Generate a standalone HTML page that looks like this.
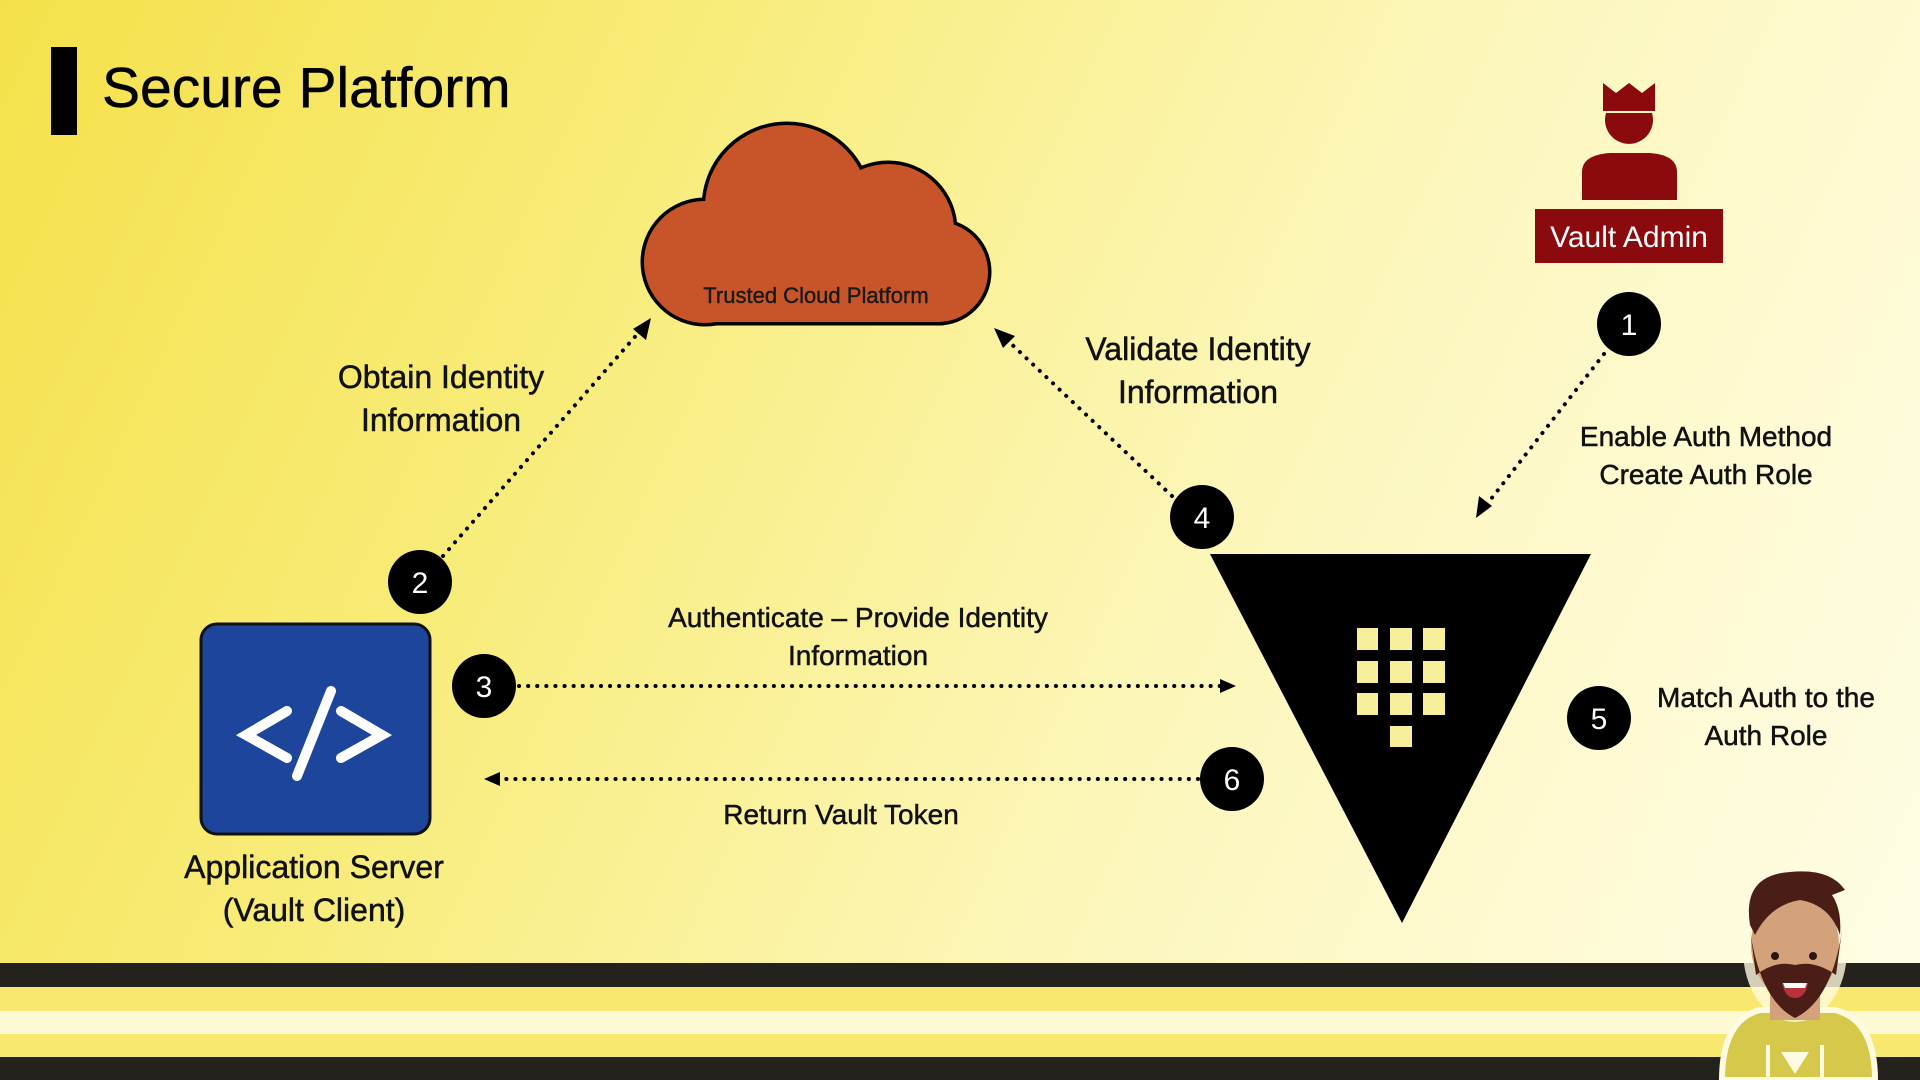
<!DOCTYPE html>
<html><head><meta charset="utf-8"><style>
html,body{margin:0;padding:0;width:1920px;height:1080px;overflow:hidden}
body{background:linear-gradient(115deg,#f4e14a 0%,#f8ec7a 30%,#fcf6b8 60%,#fefbd8 85%,#fefce6 100%);font-family:"Liberation Sans",sans-serif;position:relative}
.t{position:absolute;color:#111;text-align:center;white-space:nowrap;transform:translateX(-50%);-webkit-text-stroke:0.5px #111}
</style></head><body>
<div style="position:absolute;left:51px;top:47px;width:26px;height:88px;background:#000"></div>
<div style="position:absolute;left:102px;top:55px;font-size:57px;color:#000;line-height:66px;-webkit-text-stroke:0.5px #000">Secure Platform</div>

<div style="position:absolute;left:0;top:963px;width:1920px;height:24px;background:#24221c"></div>
<div style="position:absolute;left:0;top:987px;width:1920px;height:24px;background:#f8e870"></div>
<div style="position:absolute;left:0;top:1011px;width:1920px;height:23px;background:#fdf9d2"></div>
<div style="position:absolute;left:0;top:1034px;width:1920px;height:23px;background:#f8e870"></div>
<div style="position:absolute;left:0;top:1057px;width:1920px;height:23px;background:#24221c"></div>

<svg width="1920" height="1080" style="position:absolute;left:0;top:0">
<g stroke="#000" stroke-width="7" fill="#c8552a">
<circle cx="787" cy="207" r="82"/><circle cx="888" cy="230" r="66"/><circle cx="938" cy="272" r="50"/><circle cx="705" cy="262" r="61"/><rect x="705" y="240" width="235" height="82"/>
</g>
<g fill="#c8552a">
<circle cx="787" cy="207" r="82"/><circle cx="888" cy="230" r="66"/><circle cx="938" cy="272" r="50"/><circle cx="705" cy="262" r="61"/><rect x="705" y="240" width="235" height="82"/>
</g>
<text x="816" y="303" font-family="Liberation Sans" font-size="22" text-anchor="middle" fill="#1a1a1a" stroke="#1a1a1a" stroke-width="0.4">Trusted Cloud Platform</text>

<g fill="#8b0a0e">
<path d="M1603,83 L1616,93 L1629,83 L1642,93 L1655,83 L1655,111 L1603,111z"/>
<path d="M1606,113 L1652,113 A24,24 0 1 1 1606,113z"/>
<path d="M1582,200 L1582,172 Q1582,155 1610,153 L1650,153 Q1677,155 1677,172 L1677,200z"/>
<rect x="1535" y="209" width="188" height="54"/>
</g>
<text x="1629" y="247" font-family="Liberation Sans" font-size="30" text-anchor="middle" fill="#fff">Vault Admin</text>

<path d="M1210,554 L1591,554 L1402,923z" fill="#000"/>
<g fill="#f8ef9a">
<rect x="1357" y="628" width="21" height="22"/><rect x="1390" y="628" width="22" height="22"/><rect x="1423" y="628" width="22" height="22"/>
<rect x="1357" y="661" width="21" height="22"/><rect x="1390" y="661" width="22" height="22"/><rect x="1423" y="661" width="22" height="22"/>
<rect x="1357" y="693" width="21" height="22"/><rect x="1390" y="693" width="22" height="22"/><rect x="1423" y="693" width="22" height="22"/>
<rect x="1390" y="726" width="22" height="21"/>
</g>

<rect x="201" y="624" width="229" height="210" rx="16" fill="#1e459c" stroke="#111" stroke-width="3"/>
<g stroke="#fff" stroke-width="10" fill="none" stroke-linecap="round">
<polyline points="287,711 246,735 287,758"/>
<line x1="331" y1="691" x2="297" y2="776"/>
<polyline points="341,711 382,735 341,758"/>
</g>

<g stroke="#000" stroke-width="4" stroke-dasharray="0.1 9" stroke-linecap="round" fill="none">
<line x1="443" y1="556" x2="640" y2="331"/>
<line x1="1172" y1="496" x2="1004" y2="337"/>
<line x1="1604" y1="354" x2="1484" y2="508"/>
<line x1="519" y1="686" x2="1222" y2="686"/>
<line x1="1198" y1="779" x2="498" y2="779"/>
</g>
<g fill="#000">
<path d="M651,318 L646,340 L633,329z"/>
<path d="M994,328 L1015,336 L1003,348z"/>
<path d="M1476,518 L1479,496 L1492,506z"/>
<path d="M1236,686 L1220,679 L1220,693z"/>
<path d="M484,779 L500,772 L500,786z"/>
</g>

<g fill="#000">
<circle cx="1629" cy="324" r="32"/><circle cx="420" cy="582" r="32"/><circle cx="484" cy="686" r="32"/>
<circle cx="1202" cy="517" r="32"/><circle cx="1599" cy="718" r="32"/><circle cx="1232" cy="779" r="32"/>
</g>
<g font-family="Liberation Sans" font-size="30" fill="#fff" text-anchor="middle">
<text x="1629" y="335">1</text><text x="420" y="593">2</text><text x="484" y="697">3</text>
<text x="1202" y="528">4</text><text x="1599" y="729">5</text><text x="1232" y="790">6</text>
</g>

<g>
<path d="M1722,1080 Q1722,1020 1760,1010 L1835,1010 Q1875,1020 1875,1080z" fill="#d5c84a" stroke="#fffbe0" stroke-width="6"/>
<ellipse cx="1795" cy="950" rx="52" ry="72" fill="#fffbe0" opacity="0.8"/>
<rect x="1770" y="990" width="50" height="30" fill="#d3a27a"/>
<ellipse cx="1795" cy="945" rx="44" ry="55" fill="#d3a27a"/>
<path d="M1750,930 Q1760,1000 1795,1018 Q1832,1000 1842,930 L1836,975 Q1815,960 1795,965 Q1775,960 1756,975z" fill="#4a1e16"/>
<path d="M1750,925 Q1742,875 1790,872 Q1830,868 1845,890 L1832,895 Q1842,910 1840,935 Q1830,905 1800,900 Q1770,905 1755,935z" fill="#4a1e16"/>
<ellipse cx="1775" cy="956" rx="4" ry="4" fill="#2a1510"/><ellipse cx="1813" cy="956" rx="4" ry="4" fill="#2a1510"/>
<path d="M1782,983 L1808,983 Q1805,998 1795,998 Q1785,998 1782,983z" fill="#b8323c"/>
<path d="M1783,983 L1807,983 L1805,988 L1785,988z" fill="#fff"/>
<path d="M1781,1052 L1809,1052 L1795,1074z" fill="#fffbe0"/>
<line x1="1768" y1="1045" x2="1768" y2="1078" stroke="#fffbe0" stroke-width="4"/>
<line x1="1822" y1="1045" x2="1822" y2="1078" stroke="#fffbe0" stroke-width="4"/>
</g>
</svg>

<div class="t" style="left:441px;top:356px;font-size:32px;line-height:43px">Obtain Identity<br>Information</div>
<div class="t" style="left:1198px;top:328px;font-size:32px;line-height:43px">Validate Identity<br>Information</div>
<div class="t" style="left:1706px;top:418px;font-size:28px;line-height:38px">Enable Auth Method<br>Create Auth Role</div>
<div class="t" style="left:858px;top:599px;font-size:28px;line-height:38px">Authenticate – Provide Identity<br>Information</div>
<div class="t" style="left:841px;top:796px;font-size:28px;line-height:38px">Return Vault Token</div>
<div class="t" style="left:1766px;top:679px;font-size:28px;line-height:38px">Match Auth to the<br>Auth Role</div>
<div class="t" style="left:314px;top:846px;font-size:32px;line-height:43px">Application Server<br>(Vault Client)</div>
</body></html>
